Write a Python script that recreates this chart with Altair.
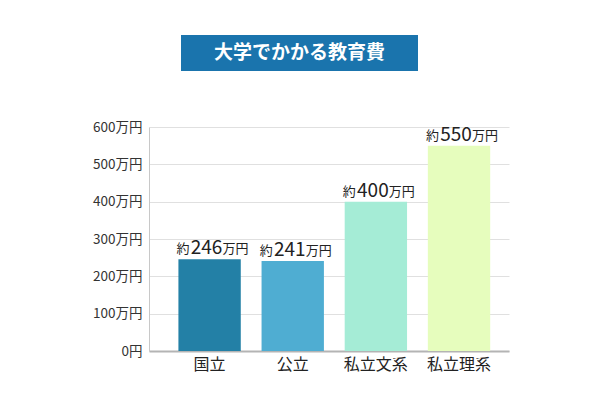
import altair as alt
import pandas as pd

# data
categories = ["国立", "公立", "私立文系", "私立理系"]
values = [246, 241, 400, 550]
bar_colors = ["#2380a6", "#4fadd2", "#a5ecd6", "#e6fdbd"]
y_ticks = [0, 100, 200, 300, 400, 500, 600]
title_text = "大学でかかる教育費"

df = pd.DataFrame({"type": categories, "cost": values, "color": bar_colors})
df["num"] = df["cost"].astype(str)

JP = "Noto Sans CJK JP"

x_enc = alt.X("type:N", sort=categories, title=None,
              scale=alt.Scale(paddingInner=0.25, paddingOuter=0.29, align=0.61),
              axis=alt.Axis(labelAngle=0, labelFontSize=16, labelFont=JP,
                            labelColor="#222", labelPadding=5, ticks=False,
                            domainColor="#b4b4b4", domainWidth=2))
y_enc = alt.Y("cost:Q", title=None,
              scale=alt.Scale(domain=[0, 600]),
              axis=alt.Axis(values=y_ticks,
                            labelExpr="datum.value == 0 ? '0円' : datum.value + '万円'",
                            labelFontSize=13.5, labelFont=JP, labelColor="#333",
                            labelOverlap=False,
                            labelPadding=7, ticks=False, gridColor="#e0e0e0",
                            domainColor="#c8c8c8"))

bars = alt.Chart(df).mark_bar().encode(
    x=x_enc,
    y=y_enc,
    color=alt.Color("color:N", scale=None),
)

# bar labels: 約 + number + 万円 in mixed sizes
base_txt = alt.Chart(df).encode(x=x_enc, y=y_enc)
num_lbl = base_txt.mark_text(font=JP, fontSize=19, align="center", baseline="bottom",
                             dx=-3, dy=-1, color="#222").encode(text="num:N")
pre_lbl = base_txt.mark_text(font=JP, fontSize=13, align="right", baseline="bottom",
                             dx=-20, dy=-3, color="#222").encode(text=alt.value("約"))
suf_lbl = base_txt.mark_text(font=JP, fontSize=13, align="left", baseline="bottom",
                             dx=13, dy=-3, color="#222").encode(text=alt.value("万円"))

# title box
one = pd.DataFrame({"k": [0]})
title_box = alt.Chart(one).mark_rect(color="#1a74ad").encode(
    x=alt.value(32), x2=alt.value(269), y=alt.value(-92), y2=alt.value(-56)
)
title_lbl = alt.Chart(one).mark_text(font=JP, fontSize=19, fontWeight="bold",
                                     color="white", align="center",
                                     baseline="middle").encode(
    x=alt.value(150.5), y=alt.value(-74), text=alt.value(title_text)
)

chart = alt.layer(bars, num_lbl, pre_lbl, suf_lbl, title_box, title_lbl).properties(
    width=360, height=224,
    autosize=alt.AutoSizeParams(type="none"),
    padding={"left": 141, "top": 119, "right": 83, "bottom": 41},
    background="white",
).configure_view(stroke=None)

chart.save("out.html", embed_options={"renderer": "svg", "actions": False})
